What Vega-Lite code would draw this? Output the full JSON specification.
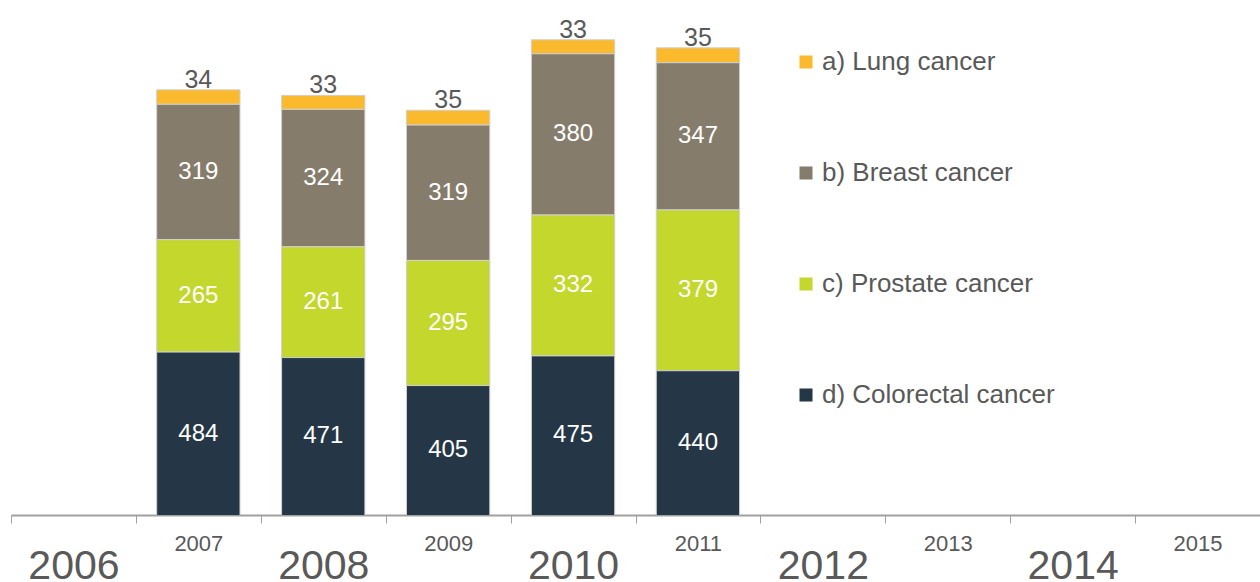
{
  "$schema": "https://vega.github.io/schema/vega-lite/v6.json",
  "width": 1249,
  "height": 510,
  "autosize": {"type": "none"},
  "padding": {"left": 11, "top": 5, "right": 0, "bottom": 67},
  "background": "white",
  "config": {"view": {"stroke": null}, "font": "Liberation Sans"},
  "data": {
    "values": [
      {"year": 2007, "cancer": "a) Lung cancer", "value": 34},
      {"year": 2007, "cancer": "b) Breast cancer", "value": 319},
      {"year": 2007, "cancer": "c) Prostate cancer", "value": 265},
      {"year": 2007, "cancer": "d) Colorectal cancer", "value": 484},
      {"year": 2008, "cancer": "a) Lung cancer", "value": 33},
      {"year": 2008, "cancer": "b) Breast cancer", "value": 324},
      {"year": 2008, "cancer": "c) Prostate cancer", "value": 261},
      {"year": 2008, "cancer": "d) Colorectal cancer", "value": 471},
      {"year": 2009, "cancer": "a) Lung cancer", "value": 35},
      {"year": 2009, "cancer": "b) Breast cancer", "value": 319},
      {"year": 2009, "cancer": "c) Prostate cancer", "value": 295},
      {"year": 2009, "cancer": "d) Colorectal cancer", "value": 405},
      {"year": 2010, "cancer": "a) Lung cancer", "value": 33},
      {"year": 2010, "cancer": "b) Breast cancer", "value": 380},
      {"year": 2010, "cancer": "c) Prostate cancer", "value": 332},
      {"year": 2010, "cancer": "d) Colorectal cancer", "value": 475},
      {"year": 2011, "cancer": "a) Lung cancer", "value": 35},
      {"year": 2011, "cancer": "b) Breast cancer", "value": 347},
      {"year": 2011, "cancer": "c) Prostate cancer", "value": 379},
      {"year": 2011, "cancer": "d) Colorectal cancer", "value": 440}
    ]
  },
  "encoding": {
    "x": {
      "field": "year",
      "type": "ordinal",
      "scale": {"domain": [2006, 2007, 2008, 2009, 2010, 2011, 2012, 2013, 2014, 2015], "paddingInner": 0, "paddingOuter": 0},
      "axis": {
        "title": null,
        "labelAngle": 0,
        "domainColor": "#a0a0a0",
        "domainWidth": 2,
        "tickColor": "#a0a0a0",
        "tickSize": 8,
        "tickBand": "extent",
        "labelFont": "Liberation Sans",
        "labelColor": "#595959",
        "labelBaseline": "alphabetic",
        "labelFontSize": {"condition": {"test": "datum.value % 2 === 0", "value": 41}, "value": 22},
        "labelPadding": {"condition": {"test": "datum.value % 2 === 0", "value": 55}, "value": 27}
      }
    }
  },
  "layer": [
    {
      "mark": {"type": "bar", "clip": true, "stroke": "#d0d0d0", "strokeWidth": 1, "width": {"band": 0.667}},
      "encoding": {
        "y": {"field": "value", "type": "quantitative", "stack": "zero", "scale": {"domain": [100, 1302]}, "axis": null},
        "color": {
          "field": "cancer",
          "type": "nominal",
          "scale": {
            "domain": ["a) Lung cancer", "b) Breast cancer", "c) Prostate cancer", "d) Colorectal cancer"],
            "range": ["#FBB92E", "#857C6B", "#C3D72C", "#253746"]
          },
          "legend": {
            "title": null,
            "orient": "none",
            "legendX": 782,
            "legendY": 44,
            "symbolType": "square",
            "symbolSize": 169,
            "symbolStrokeWidth": 0,
            "labelFontSize": 26,
            "labelColor": "#595959",
            "labelFont": "Liberation Sans",
            "labelOffset": 3,
            "labelLimit": 0,
            "rowPadding": 85,
            "clipHeight": 26,
            "padding": 0
          }
        },
        "order": {"field": "cancer", "sort": "descending"}
      }
    },
    {
      "mark": {"type": "text", "color": "white", "fontSize": 24, "baseline": "middle"},
      "encoding": {
        "y": {"field": "value", "type": "quantitative", "stack": "zero", "bandPosition": 0.5, "scale": {"domain": [100, 1302]}, "axis": null},
        "detail": {"field": "cancer"},
        "order": {"field": "cancer", "sort": "descending"},
        "text": {"field": "value"},
        "opacity": {"condition": {"test": "datum.cancer === 'b) Breast cancer' || datum.cancer === 'c) Prostate cancer'", "value": 1}, "value": 0}
      }
    },
    {
      "mark": {"type": "text", "color": "#595959", "fontSize": 25, "baseline": "alphabetic", "dy": -2},
      "encoding": {
        "y": {"field": "value", "type": "quantitative", "stack": "zero", "scale": {"domain": [100, 1302]}, "axis": null},
        "detail": {"field": "cancer"},
        "order": {"field": "cancer", "sort": "descending"},
        "text": {"field": "value"},
        "opacity": {"condition": {"test": "datum.cancer === 'a) Lung cancer'", "value": 1}, "value": 0}
      }
    },
    {
      "transform": [{"filter": "datum.cancer === 'd) Colorectal cancer'"}],
      "mark": {"type": "text", "color": "white", "fontSize": 24, "baseline": "middle"},
      "encoding": {
        "y": {"field": "value", "type": "quantitative", "stack": null, "scale": {"domain": [100, 2504]}, "axis": null},
        "text": {"field": "value"}
      }
    }
  ],
  "resolve": {"scale": {"y": "independent"}}
}
